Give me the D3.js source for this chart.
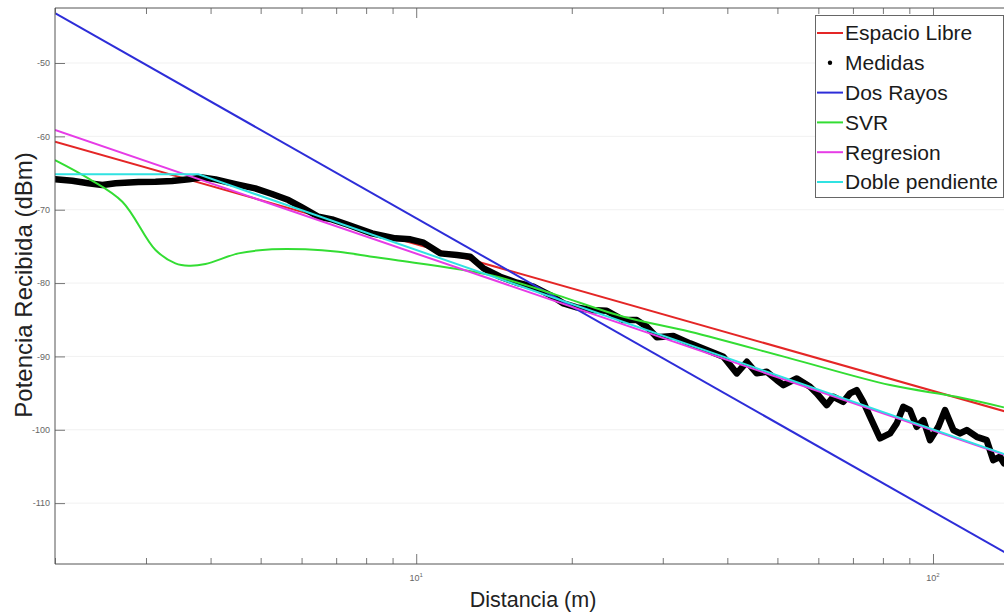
<!DOCTYPE html>
<html>
<head>
<meta charset="utf-8">
<script src="https://cdn.jsdelivr.net/npm/d3@7/dist/d3.min.js"></script>
<style>
  html, body { margin: 0; padding: 0; background: #fff; overflow: hidden; }
  svg { display: block; font-family: "Liberation Sans", Arial, Helvetica, sans-serif; }
</style>
</head>
<body>
<div id="chart"></div>
<script>
// ---------- Data ----------
// Measured received power (Medidas)
const distMedidas = [2.00, 2.16, 2.32, 2.47, 2.62, 2.90, 3.13, 3.37, 3.63, 3.85, 4.09, 4.47, 4.88, 5.26, 5.66, 6.01, 6.47, 6.87, 7.40, 8.21, 9.11, 9.74, 10.33, 11.13, 11.99, 12.72, 13.50, 14.54, 15.66, 16.86, 18.16, 19.27, 20.45, 21.71, 23.38, 25.18, 26.73, 27.94, 29.21, 31.45, 33.88, 36.50, 39.30, 41.72, 43.63, 45.60, 47.69, 49.86, 51.35, 54.51, 57.82, 59.57, 62.28, 64.14, 67.06, 69.09, 71.18, 73.32, 75.53, 78.97, 82.58, 85.09, 87.63, 90.27, 93.0, 95.8, 98.7, 102.4, 105.5, 109.5, 112.8, 116.2, 121.5, 127.0, 130.8, 134.8, 137.2];
const potMedidas = [-65.86, -66.05, -66.40, -66.64, -66.40, -66.23, -66.19, -66.09, -65.86, -65.59, -65.86, -66.50, -67.09, -67.86, -68.68, -69.68, -70.96, -71.31, -72.09, -73.22, -73.90, -74.04, -74.50, -75.95, -76.18, -76.41, -78.00, -79.14, -79.96, -80.50, -81.64, -82.77, -83.31, -83.68, -83.78, -85.05, -85.05, -85.96, -87.40, -87.23, -88.22, -89.14, -90.05, -92.31, -90.73, -92.31, -92.09, -93.23, -93.91, -93.00, -94.14, -95.04, -96.64, -95.50, -96.19, -95.04, -94.59, -96.19, -98.23, -101.18, -100.50, -99.13, -96.87, -97.32, -99.60, -98.68, -101.41, -99.60, -97.32, -100.04, -100.50, -100.04, -100.96, -101.41, -104.14, -103.68, -104.59];

// SVR model
const distSVR = [2.00, 2.32, 2.70, 3.13, 3.42, 3.63, 3.91, 4.53, 5.26, 6.10, 7.07, 8.21, 9.11, 13.90, 18.72, 25.18, 33.88, 52.9, 82.58, 111.1, 137.2];
const potSVR = [-63.23, -65.72, -68.91, -75.50, -77.31, -77.64, -77.41, -75.95, -75.40, -75.40, -75.73, -76.41, -76.86, -78.91, -81.64, -84.60, -86.64, -90.27, -93.91, -95.50, -96.95];

// Straight-line models (end points)
const distModelo = [2, 140];
const potEspacioLibre = [-60.73, -97.63];
const potDosRayos = [-43.2, -117.0];
const potRegresion = [-59.14, -103.6];
// Doble pendiente (flat, then sloped)
const distDoble = [2, 3.79, 140];
const potDoble = [-65.18, -65.18, -103.52];

// Axes
const xDomain = [2, 140];
const yDomain = [-118.3, -42.5];
const yTicks = [-110, -100, -90, -80, -70, -60, -50];
const xMajorTicks = [10, 100];
const xMajorExp = ["1", "2"];
const xMinorTicks = [2, 3, 4, 5, 6, 7, 8, 9, 20, 30, 40, 50, 60, 70, 80, 90];

const legendNames = ["Espacio Libre", "Medidas", "Dos Rayos", "SVR", "Regresion", "Doble pendiente"];

// ---------- Drawing ----------
const W = 1004, H = 615;
const plot = { left: 55, top: 8, right: 1008.5, bottom: 564 };

const colors = {
  libre: "#e42626",
  med: "#000000",
  dos: "#2d2dd8",
  svr: "#33dd33",
  reg: "#e63ce6",
  doble: "#30e2e2"
};

const svg = d3.select("#chart").append("svg")
  .attr("width", W).attr("height", H);

svg.append("rect").attr("width", W).attr("height", H).attr("fill", "#fff");

const x = d3.scaleLog().domain(xDomain).range([plot.left, plot.right]);
const y = d3.scaleLinear().domain(yDomain).range([plot.bottom, plot.top]);

// faint grid
svg.append("g").selectAll("line").data(yTicks).join("line")
  .attr("x1", plot.left).attr("x2", plot.right)
  .attr("y1", d => y(d)).attr("y2", d => y(d))
  .attr("stroke", "#f1f1f1").attr("stroke-width", 1);

svg.append("clipPath").attr("id", "clip")
  .append("rect").attr("x", plot.left).attr("y", plot.top)
  .attr("width", plot.right - plot.left).attr("height", plot.bottom - plot.top);

const g = svg.append("g").attr("clip-path", "url(#clip)");

const line = d3.line().x(d => x(d[0])).y(d => y(d[1]));
const smooth = d3.line().x(d => x(d[0])).y(d => y(d[1])).curve(d3.curveCatmullRom.alpha(0.5));

const zip = (a, b) => a.map((v, i) => [v, b[i]]);

// Espacio libre
g.append("path").datum(zip(distModelo, potEspacioLibre)).attr("d", line)
  .attr("fill", "none").attr("stroke", colors.libre).attr("stroke-width", 2);
// Medidas
g.append("path").datum(zip(distMedidas, potMedidas)).attr("d", line)
  .attr("fill", "none").attr("stroke", colors.med).attr("stroke-width", 6.5)
  .attr("stroke-linejoin", "round").attr("stroke-linecap", "round");
// Dos rayos
g.append("path").datum(zip(distModelo, potDosRayos)).attr("d", line)
  .attr("fill", "none").attr("stroke", colors.dos).attr("stroke-width", 2);
// SVR
g.append("path").datum(zip(distSVR, potSVR)).attr("d", smooth)
  .attr("fill", "none").attr("stroke", colors.svr).attr("stroke-width", 2);
// Regresion
g.append("path").datum(zip(distModelo, potRegresion)).attr("d", line)
  .attr("fill", "none").attr("stroke", colors.reg).attr("stroke-width", 2);
// Doble pendiente
g.append("path").datum(zip(distDoble, potDoble)).attr("d", line)
  .attr("fill", "none").attr("stroke", colors.doble).attr("stroke-width", 2);

// ---------- Axes ----------
const axisColor = "#555";
const tickColor = "#777";

// Left axis (ticks inward)
const yAxis = d3.axisRight(y).tickValues(yTicks).tickSize(10).tickFormat("");
const yg = svg.append("g").attr("transform", `translate(${plot.left},0)`).call(yAxis);
yg.select(".domain").remove();
yg.selectAll(".tick line").attr("stroke", tickColor);
svg.append("g").selectAll("text").data(yTicks).join("text")
  .attr("x", plot.left - 5).attr("y", d => y(d)).attr("dy", "0.35em")
  .attr("text-anchor", "end").attr("font-size", 9).attr("fill", "#666")
  .text(d => d);

// Bottom axis: major and minor ticks inward
const xbMinor = d3.axisTop(x).tickValues(xMinorTicks).tickSize(6).tickFormat("");
const xbMajor = d3.axisTop(x).tickValues(xMajorTicks).tickSize(10).tickFormat("");
[xbMinor, xbMajor].forEach(ax => {
  const gg = svg.append("g").attr("transform", `translate(0,${plot.bottom})`).call(ax);
  gg.select(".domain").remove();
  gg.selectAll(".tick line").attr("stroke", tickColor);
});
// Top axis ticks
const xtMinor = d3.axisBottom(x).tickValues(xMinorTicks).tickSize(6).tickFormat("");
const xtMajor = d3.axisBottom(x).tickValues(xMajorTicks).tickSize(10).tickFormat("");
[xtMinor, xtMajor].forEach(ax => {
  const gg = svg.append("g").attr("transform", `translate(0,${plot.top})`).call(ax);
  gg.select(".domain").remove();
  gg.selectAll(".tick line").attr("stroke", tickColor);
});

// x tick labels 10^n
const xl = svg.append("g").selectAll("text").data(xMajorTicks).join("text")
  .attr("x", d => x(d)).attr("y", plot.bottom + 17)
  .attr("text-anchor", "middle").attr("font-size", 9).attr("fill", "#666");
xl.append("tspan").text("10");
xl.append("tspan").attr("dy", -4).attr("font-size", 6).text((d, i) => xMajorExp[i]);

// axis lines
svg.append("line").attr("x1", plot.left).attr("x2", plot.left)
  .attr("y1", plot.top).attr("y2", plot.bottom).attr("stroke", axisColor).attr("stroke-width", 1);
svg.append("line").attr("x1", plot.left).attr("x2", plot.right)
  .attr("y1", plot.bottom).attr("y2", plot.bottom).attr("stroke", axisColor).attr("stroke-width", 1);
svg.append("line").attr("x1", plot.left).attr("x2", plot.right)
  .attr("y1", plot.top).attr("y2", plot.top).attr("stroke", axisColor).attr("stroke-width", 1);

// Axis titles
svg.append("text")
  .attr("x", 533).attr("y", 607)
  .attr("text-anchor", "middle").attr("font-size", 21.5).attr("fill", "#222")
  .text("Distancia (m)");
svg.append("text")
  .attr("transform", `translate(32,285) rotate(-90)`)
  .attr("text-anchor", "middle").attr("font-size", 24).attr("fill", "#222")
  .text("Potencia Recibida (dBm)");

// ---------- Legend ----------
const leg = { x: 815, y: 15, w: 188, h: 182, row: 29.8, first: 33 };
svg.append("rect").attr("x", leg.x + 0.5).attr("y", leg.y + 0.5)
  .attr("width", leg.w).attr("height", leg.h)
  .attr("fill", "#fff").attr("stroke", "#666").attr("stroke-width", 1);

const legColors = [colors.libre, colors.med, colors.dos, colors.svr, colors.reg, colors.doble];
const items = svg.append("g").selectAll("g").data(legendNames).join("g")
  .attr("transform", (d, i) => `translate(${leg.x},${leg.first + i * leg.row})`);
items.each(function (d, i) {
  const it = d3.select(this);
  if (i === 1) {
    it.append("circle").attr("cx", 15).attr("cy", 0).attr("r", 2.2).attr("fill", "#000");
  } else {
    it.append("line").attr("x1", 2).attr("x2", 28).attr("y1", 0).attr("y2", 0)
      .attr("stroke", legColors[i]).attr("stroke-width", 2);
  }
  it.append("text").attr("x", 30).attr("y", 0).attr("dy", "0.35em")
    .attr("font-size", 21).attr("fill", "#1a1a1a").text(d);
});
</script>
</body>
</html>
